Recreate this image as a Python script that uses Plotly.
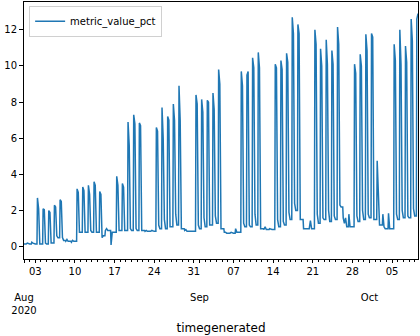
import pandas as pd
import plotly.graph_objects as go

# hourly metric: one value per day at a few hours of the day
start_day = "2020-08-01"
last_time = "2020-10-09 14:00"
hours = [0, 7, 9, 14, 19]

# night / morning level
morning = [0.15, 0.15, 0.15, 0.15, 0.15, 0.2, 0.5,
           0.35, 0.3, 0.3, 0.8, 0.8, 0.8, 0.8,
           0.6, 0.9, 0.8, 0.9, 0.9, 0.9, 0.9,
           0.9, 0.85, 0.85, 1.0, 1.0, 1.1, 1.2,
           1.0, 0.85, 0.85, 1.0, 1.1, 1.2, 1.3,
           1.0, 0.75, 0.75, 0.8, 1.1, 1.1, 1.2,
           1.0, 0.95, 0.95, 1.1, 1.2, 1.5, 2.0,
           1.5, 1.0, 1.0, 1.3, 1.5, 1.4, 1.5,
           2.2, 1.1, 1.1, 1.4, 1.5, 1.6, 1.5,
           1.2, 1.0, 1.0, 1.5, 1.6, 1.6, 1.7]
# first (usually highest) value of the working day
peak = [0.15, 0.25, 2.7, 2.1, 2.0, 2.3, 2.6,
        0.3, 0.25, 3.2, 3.3, 3.4, 3.6, 3.05,
        0.9, 0.1, 3.9, 3.5, 6.9, 7.3, 6.85,
        0.85, 0.85, 6.6, 7.7, 7.2, 7.9, 8.9,
        0.9, 0.85, 8.4, 8.15, 8.1, 8.5, 9.8,
        0.8, 0.75, 1.0, 9.7, 9.5, 10.45, 10.75,
        0.95, 1.0, 10.1, 10.3, 10.7, 12.7, 12.3,
        1.0, 1.0, 12.0, 10.95, 11.45, 10.85, 12.15,
        1.6, 1.8, 10.1, 10.65, 11.75, 11.8, 4.75,
        1.8, 1.85, 11.2, 12.0, 11.1, 12.6, 12.6]
# afternoon value
second = [0.2, 0.2, 2.1, 2.05, 1.9, 2.2, 2.5,
          0.4, 0.35, 3.0, 3.1, 2.9, 3.4, 2.9,
          1.0, 0.8, 3.4, 3.3, 5.6, 6.8, 6.7,
          0.9, 0.9, 6.4, 6.0, 7.0, 7.0, 7.0,
          0.95, 0.85, 7.9, 7.45, 8.0, 7.6, 9.0,
          0.8, 0.8, 0.8, 8.9, 9.7, 9.9, 9.9,
          1.1, 0.95, 9.9, 9.8, 10.2, 11.8, 11.8,
          1.0, 1.45, 11.2, 10.0, 10.1, 10.1, 11.2,
          1.3, 1.1, 9.6, 10.0, 10.85, 11.6, 3.3,
          1.1, 1.0, 10.3, 10.1, 10.2, 11.4, 12.9]
# evening level
evening = [0.15, 0.15, 0.15, 0.2, 0.2, 0.6, 0.5,
           0.3, 0.3, 0.8, 0.8, 0.9, 0.8, 0.5,
           0.9, 0.8, 0.9, 0.9, 1.0, 1.0, 0.9,
           0.85, 0.85, 1.2, 1.5, 1.1, 1.8, 1.0,
           0.85, 0.85, 1.2, 1.6, 1.2, 1.7, 1.0,
           0.75, 0.75, 0.8, 1.3, 1.2, 1.8, 1.0,
           0.95, 0.95, 1.5, 1.4, 1.9, 2.4, 1.5,
           1.0, 1.0, 1.8, 1.6, 2.0, 1.7, 2.3,
           1.6, 1.1, 1.7, 2.0, 1.8, 1.5, 1.2,
           1.0, 1.0, 1.8, 2.0, 1.7, 2.1, 1.7]

week_ticks = ["2020-08-03", "2020-08-10", "2020-08-17", "2020-08-24", "2020-08-31",
              "2020-09-07", "2020-09-14", "2020-09-21", "2020-09-28", "2020-10-05"]
week_labels = ["03", "10", "17", "24", "31", "07", "14", "21", "28", "05"]
month_ticks = ["2020-08-01", "2020-09-01", "2020-10-01"]
month_labels = ["<br><br>Aug<br>2020", "<br><br>Sep", "<br><br>Oct"]

days = pd.date_range(start_day, periods=len(peak), freq="D")
rows = []
for i, day in enumerate(days):
    vals = [morning[i], morning[i], peak[i], second[i], evening[i]]
    for h, v in zip(hours, vals):
        rows.append((day + pd.Timedelta(hours=h), v))
df = pd.DataFrame(rows, columns=["timegenerated", "metric_value_pct"])
df = df[df.timegenerated <= pd.Timestamp(last_time)]

fig = go.Figure()
fig.add_trace(go.Scatter(
    x=df.timegenerated,
    y=df.metric_value_pct,
    mode="lines",
    name="metric_value_pct",
    line=dict(color="#1f77b4", width=1.5),
))

font = dict(family="DejaVu Sans", size=10, color="black")
fig.update_layout(
    width=420, height=336,
    margin=dict(l=24, r=2, t=2, b=77),
    paper_bgcolor="white", plot_bgcolor="white",
    font=font,
    showlegend=True,
    legend=dict(
        x=0.013, y=0.985, xanchor="left", yanchor="top",
        bgcolor="rgba(255,255,255,0.8)", bordercolor="#d0d0d0", borderwidth=1,
        font=dict(family="DejaVu Sans", size=10, color="black"),
    ),
    xaxis=dict(
        range=[start_day, last_time],
        tickvals=week_ticks + month_ticks,
        ticktext=week_labels + month_labels,
        tickangle=0,
        ticks="outside", ticklen=3, tickcolor="black",
        minor=dict(dtick=86400000, tick0=start_day, ticks="outside", ticklen=2, tickcolor="black"),
        showline=True, linecolor="black", linewidth=1, mirror=True,
        showgrid=False, zeroline=False, automargin=False,
        title=dict(text="timegenerated", standoff=8),
    ),
    yaxis=dict(
        range=[-0.68, 13.54],
        tickvals=[0, 2, 4, 6, 8, 10, 12],
        ticks="outside", ticklen=4, tickcolor="black",
        showline=True, linecolor="black", linewidth=1, mirror=True,
        showgrid=False, zeroline=False, automargin=False,
    ),
)

# the page body has a default 8px margin; drop it so the figure fills the window
fig.write_html("out.html", config={"displayModeBar": False},
               post_script="document.body.style.margin='0';")
